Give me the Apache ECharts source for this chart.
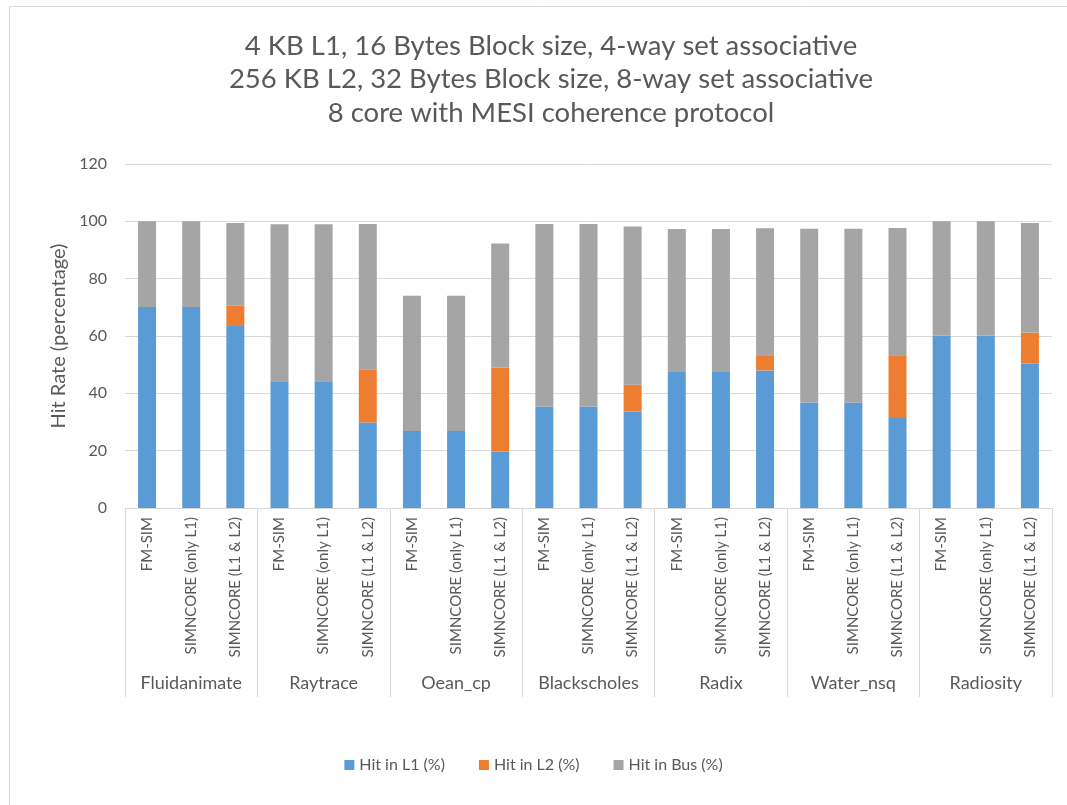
<!DOCTYPE html>
<html>
<head>
<meta charset="utf-8">
<script src="https://cdn.jsdelivr.net/npm/echarts@6/dist/echarts.min.js"></script>
<style>
  html, body { margin: 0; padding: 0; background: #fff; }
  #chart { width: 1067px; height: 805px; }
</style>
</head>
<body>
<div id="chart"></div>
<script>
// Benchmarks (outer axis) and simulator configurations (inner axis)
const benchmarks = ['Fluidanimate', 'Raytrace', 'Oean_cp', 'Blackscholes', 'Radix', 'Water_nsq', 'Radiosity'];
const simulators = ['FM-SIM', 'SIMNCORE (only L1)', 'SIMNCORE (L1 & L2)'];

// Hit rates (%) per bar, in benchmark order, three simulators each
const hitL1 = [70.1, 70.1, 63.5, 44.2, 44.2, 29.8, 26.9, 26.9, 19.7, 35.4, 35.4, 33.7,
               47.4, 47.4, 48.0, 36.8, 36.8, 31.4, 60.2, 60.2, 50.4];
const hitL2 = [0, 0, 7.2, 0, 0, 18.6, 0, 0, 29.3, 0, 0, 9.3,
               0, 0, 5.3, 0, 0, 21.9, 0, 0, 10.8];
const hitBus = [29.9, 29.9, 28.7, 54.8, 54.8, 50.7, 47.1, 47.1, 43.3, 63.7, 63.7, 55.2,
                49.9, 49.9, 44.3, 60.6, 60.6, 44.4, 39.8, 39.8, 38.2];

const yTicks = { min: 0, max: 120, interval: 20 };

const titleLines = [
  '4 KB L1, 16 Bytes Block size, 4-way set associative',
  '256 KB L2, 32 Bytes Block size, 8-way set associative',
  '8 core with MESI coherence protocol'
];

const categories = [];
benchmarks.forEach(() => simulators.forEach(s => categories.push(s)));

const FONT = 'Lato, "Open Sans", sans-serif';
const TXT = '#595959';
const GRIDC = '#d9d9d9';

const chart = echarts.init(document.getElementById('chart'), null, { renderer: 'canvas' });

const mk = (name, data, color) => ({
  name, type: 'bar', stack: 'hits', data,
  barWidth: 18, xAxisIndex: 0,
  itemStyle: { color },
  emphasis: { disabled: true }
});

chart.setOption({
  backgroundColor: '#fff',
  animation: false,
  textStyle: { fontFamily: FONT },
  title: {
    text: titleLines.join('\n'),
    left: 546, textAlign: 'center', top: 24,
    textStyle: { fontFamily: FONT, fontSize: 27.5, fontWeight: 'normal', color: TXT, lineHeight: 33.5 }
  },
  graphic: [{
    type: 'rect', left: 7, top: 4,
    shape: { width: 1100, height: 900 },
    style: { fill: 'none', stroke: GRIDC, lineWidth: 1 },
    silent: true
  }],
  legend: {
    bottom: 27, left: 'center',
    icon: 'rect', itemWidth: 10, itemHeight: 10, itemGap: 34,
    textStyle: { fontFamily: FONT, fontSize: 16, color: TXT },
    data: ['Hit in L1 (%)', 'Hit in L2 (%)', 'Hit in Bus (%)']
  },
  grid: { left: 125, right: 15, top: 164, bottom: 297, containLabel: false },
  xAxis: [{
    type: 'category', data: categories,
    axisLine: { show: true, lineStyle: { color: GRIDC } },
    axisTick: { show: false },
    axisLabel: { interval: 0, rotate: 90, margin: 9, fontFamily: FONT, fontSize: 15, color: TXT }
  }, {
    type: 'category', data: benchmarks, position: 'bottom', offset: 189,
    boundaryGap: true,
    axisLine: { show: false },
    axisTick: { show: true, inside: true, length: 189, interval: 0, lineStyle: { color: GRIDC } },
    axisLabel: { inside: true, interval: 0, margin: 5, fontFamily: FONT, fontSize: 18, color: TXT }
  }],
  yAxis: {
    type: 'value', min: yTicks.min, max: yTicks.max, interval: yTicks.interval,
    name: 'Hit Rate (percentage)', nameLocation: 'middle', nameGap: 53,
    nameTextStyle: { fontFamily: FONT, fontSize: 20, color: TXT },
    axisLine: { show: false }, axisTick: { show: false },
    axisLabel: { fontFamily: FONT, fontSize: 16, color: TXT, margin: 18 },
    splitLine: { lineStyle: { color: GRIDC } }
  },
  series: [
    mk('Hit in L1 (%)', hitL1, '#5B9BD5'),
    mk('Hit in L2 (%)', hitL2, '#ED7D31'),
    mk('Hit in Bus (%)', hitBus, '#A5A5A5')
  ]
});
</script>
</body>
</html>
